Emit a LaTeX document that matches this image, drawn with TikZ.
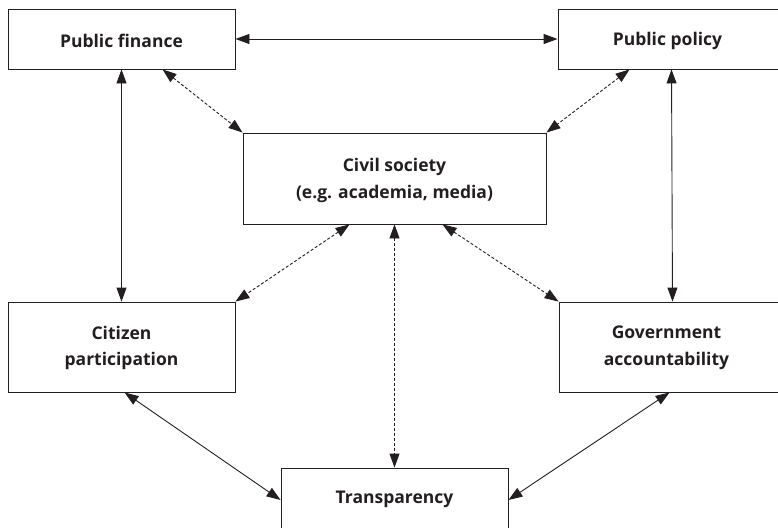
\documentclass[tikz,border=0pt]{standalone}
\usepackage{fontspec}
\setmainfont{Open Sans}
\usetikzlibrary{arrows.meta}
\definecolor{ink}{HTML}{231F20}
\begin{document}
\begin{tikzpicture}[x=1pt,y=-1pt,
  box/.style={draw=ink, line width=0.9pt, inner sep=0pt},
  txt/.style={inner sep=0pt, align=center, text=ink,
    font=\fontsize{17.5}{26.5}\selectfont\bfseries},
  link/.style={draw=ink, line width=0.9pt, {Triangle[length=14pt,width=10pt]}-{Triangle[length=14pt,width=10pt]}},
  dlink/.style={link, dash pattern=on 3pt off 2pt}]
\useasboundingbox (0,0) rectangle (778,527);
\clip (0,0) rectangle (778,527);
\node[box, minimum width=227pt, minimum height=60pt] (pf) at (121.5,39) {};
\node[box, minimum width=227pt, minimum height=60pt] (pp) at (671.5,39) {};
\node[box, minimum width=303pt, minimum height=91pt] (cs) at (394.5,178.5) {};
\node[box, minimum width=227pt, minimum height=90pt] (cp) at (121.5,347) {};
\node[box, minimum width=227pt, minimum height=90pt] (ga) at (672.5,347) {};
\node[box, minimum width=227pt, minimum height=60pt] (tr) at (394.5,498) {};
\node[txt] (pft) at ([yshift=-2pt]pf.center) {Public finance};
\node[txt] (ppt) at ([xshift=-4pt,yshift=-2pt]pp.center) {Public policy};
\node[txt] (cst) at ([yshift=-2pt]cs.center) {Civil society\\(e.g. academia, media)};
\node[txt] (cpt) at ([yshift=-1pt]cp.center) {Citizen\\participation};
\node[txt] (gat) at ([xshift=-6pt,yshift=-1pt]ga.center) {Government\\accountability};
\node[txt] (trt) at ([yshift=-1pt]tr.center) {Transparency};
\draw[link] (pf.east) -- (pp.west);
\draw[link] (pf.south) -- (cp.north);
\draw[link] (pp.south) -- (ga.north);
\draw[dlink] ([xshift=155pt]pf.south west) -- (cs.north west);
\draw[dlink] ([xshift=72pt]pp.south west) -- (cs.north east);
\draw[dlink] ([xshift=107pt]cs.south west) -- (cp.north east);
\draw[dlink] ([xshift=200pt]cs.south west) -- (ga.north west);
\draw[dlink] (cs.south) -- (tr.north);
\draw[link] ([xshift=117pt]cp.south west) -- ([yshift=-2pt]tr.west);
\draw[link] ([xshift=111pt]ga.south west) -- ([yshift=-2pt]tr.east);
\end{tikzpicture}
\end{document}
